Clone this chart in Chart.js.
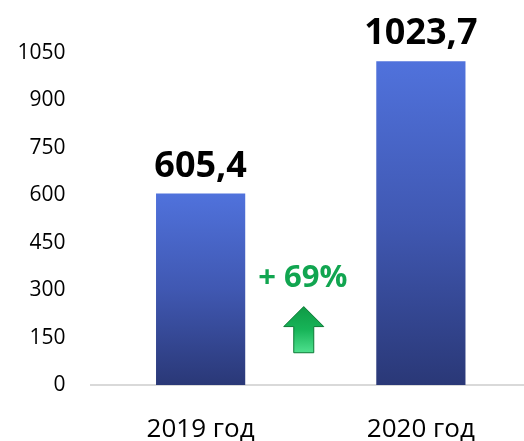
<!DOCTYPE html>
<html>
<head>
<meta charset="utf-8">
<script src="https://cdn.jsdelivr.net/npm/chart.js@4/dist/chart.umd.min.js"></script>
<style>
  html, body { margin: 0; padding: 0; background: #ffffff; overflow: hidden; }
  #wrap { width: 531px; height: 441px; }
</style>
</head>
<body>
<div id="wrap"><canvas id="c" width="531" height="441"></canvas></div>
<script>
const categories = ['2019 год', '2020 год'];
const values = [605.4, 1023.7];
const valueLabels = ['605,4', '1023,7'];
const yTicks = [0, 150, 300, 450, 600, 750, 900, 1050];
const growthLabel = '+ 69%';
const growthLabelValue = 310;   // y-value where the growth label baseline sits
const arrowTopValue = 248;      // y-value of arrow tip
const arrowBottomValue = 102;   // y-value of arrow bottom

const FONT = "'Open Sans', 'Noto Sans', sans-serif";

function barGradient(c) {
  const chart = c.chart;
  if (!chart.chartArea || c.type !== 'data') return '#4a66c8';
  const ys = chart.scales.y;
  const top = ys.getPixelForValue(c.parsed.y);
  const bot = ys.getPixelForValue(0);
  const g = chart.ctx.createLinearGradient(0, top, 0, bot);
  g.addColorStop(0, '#5072dc');
  g.addColorStop(0.5, '#4058b2');
  g.addColorStop(1, '#2a3877');
  return g;
}

const labelsPlugin = {
  id: 'valueLabels',
  afterDatasetsDraw(chart) {
    const ctx = chart.ctx;
    const meta = chart.getDatasetMeta(0);
    ctx.save();
    ctx.font = "bold 36px " + FONT;
    ctx.fillStyle = '#000000';
    ctx.textAlign = 'center';
    ctx.textBaseline = 'alphabetic';
    meta.data.forEach((el, i) => {
      ctx.fillText(valueLabels[i], el.x, el.y - 17);
    });

    // growth annotation
    const xs = chart.scales.x, ys = chart.scales.y;
    const cx = xs.getPixelForValue(0.5) - 8;
    ctx.font = "bold 31px " + FONT;
    ctx.fillStyle = '#11a550';
    ctx.fillText(growthLabel, cx, ys.getPixelForValue(growthLabelValue));

    // arrow
    const tipY = ys.getPixelForValue(arrowTopValue);
    const botY = ys.getPixelForValue(arrowBottomValue);
    const headY = tipY + 20;
    const ax = cx + 1;
    ctx.beginPath();
    ctx.moveTo(ax, tipY);
    ctx.lineTo(ax + 20, headY);
    ctx.lineTo(ax + 10, headY);
    ctx.lineTo(ax + 10, botY);
    ctx.lineTo(ax - 10, botY);
    ctx.lineTo(ax - 10, headY);
    ctx.lineTo(ax - 20, headY);
    ctx.closePath();
    const g = ctx.createLinearGradient(0, tipY, 0, botY);
    g.addColorStop(0, '#0f9a45');
    g.addColorStop(0.5, '#17b458');
    g.addColorStop(1, '#4fe08e');
    ctx.fillStyle = g;
    ctx.fill();
    ctx.lineWidth = 1;
    ctx.strokeStyle = '#0c7a36';
    ctx.stroke();
    ctx.restore();
  }
};

new Chart(document.getElementById('c'), {
  type: 'bar',
  data: {
    labels: categories,
    datasets: [{
      data: values,
      backgroundColor: barGradient,
      borderWidth: 0,
      barPercentage: 0.405,
      categoryPercentage: 1.0
    }]
  },
  options: {
    responsive: false,
    animation: false,
    devicePixelRatio: 1,
    layout: { padding: { top: 53, left: 0, right: 0, bottom: 0 } },
    plugins: { legend: { display: false }, tooltip: { enabled: false } },
    scales: {
      x: {
        grid: { display: false, drawTicks: false },
        border: { display: true, color: '#d9d9d9', width: 2 },
        ticks: { color: '#000000', font: { family: FONT, size: 26 }, padding: 29 },
        afterFit(s) { s.height = 56; }
      },
      y: {
        min: 0, max: 1050,
        afterBuildTicks(s) { s.ticks = yTicks.map(v => ({ value: v })); },
        grid: { display: false, drawTicks: false },
        border: { display: false },
        ticks: {
          color: '#000000', font: { family: FONT, size: 21 }, padding: 25,
          callback: (v) => String(v)
        },
        afterFit(s) { s.width = 90.5; }
      }
    }
  },
  plugins: [labelsPlugin]
});
</script>
</body>
</html>
